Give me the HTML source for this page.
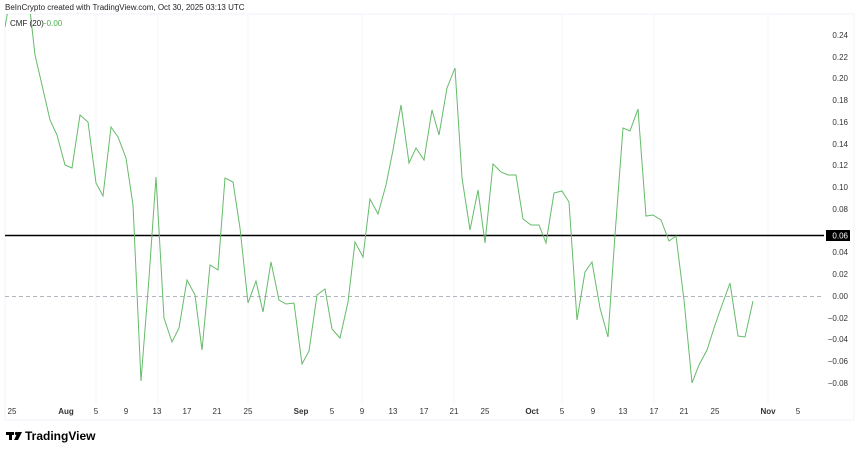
<!DOCTYPE html>
<html><head><meta charset="utf-8"><style>
body{margin:0;background:#fff;width:860px;height:452px;overflow:hidden;font-family:"Liberation Sans",sans-serif}
</style></head><body>
<svg width="860" height="452" xmlns="http://www.w3.org/2000/svg" font-family="Liberation Sans, sans-serif">
<defs><clipPath id="c"><rect x="5" y="14" width="820" height="390"/></clipPath></defs>
<rect x="5" y="14" width="849" height="406" fill="none" stroke="#f0f3fa"/>
<g stroke="#f3f4f7" stroke-width="1">
<line x1="96" y1="14" x2="96" y2="404"/><line x1="158" y1="14" x2="158" y2="404"/><line x1="248" y1="14" x2="248" y2="404"/><line x1="362" y1="14" x2="362" y2="404"/><line x1="454" y1="14" x2="454" y2="404"/><line x1="562" y1="14" x2="562" y2="404"/><line x1="654" y1="14" x2="654" y2="404"/><line x1="768" y1="14" x2="768" y2="404"/>
</g>
<line x1="5" y1="296.5" x2="824" y2="296.5" stroke="#b2b5be" stroke-dasharray="4,3"/>
<line x1="5" y1="235.5" x2="824" y2="235.5" stroke="#000" stroke-width="1.5"/>
<g clip-path="url(#c)">
<polyline fill="none" stroke="#66bb6a" stroke-width="1" points="5,27 8,10 30,10 35,55 42,85 50,120 57,135 65,165 72,168 80,115 88,122 96,183 103,196 111,127 118,137 126,158 133,205 141,381 149,278 156,177 164,318 172,342 179,328 187,280 195,295 202,350 210,265 218,270 225,178 233,182 240,228 248,303 256,281 263,312 271,262 279,300 286,304 294,303 302,364 309,351 317,295 325,289 332,329 340,338 348,302 355,242 363,257 370,199 378,214 386,185 393,150 401,105 409,163 416,148 424,160 432,110 439,135 447,88 455,68 462,178 470,230 478,190 485,243 493,164 501,172 508,175 516,175 523,219 531,225 539,225 546,243 554,193 562,191 569,202 577,320 585,272 592,262 600,308 608,337 615,235 623,128 630,131 638,109 646,216 653,215 661,220 669,241 676,236 684,300 692,383 699,365 707,350 715,325 722,305 730,283 738,336 745,337 753,301"/>
</g>
<g font-size="8" fill="#333" text-anchor="end">
<text x="848" y="38">0.24</text><text x="848" y="60">0.22</text><text x="848" y="81">0.20</text><text x="848" y="103">0.18</text><text x="848" y="125">0.16</text><text x="848" y="147">0.14</text><text x="848" y="168">0.12</text><text x="848" y="190">0.10</text><text x="848" y="212">0.08</text><text x="848" y="255">0.04</text><text x="848" y="277">0.02</text><text x="848" y="299">0.00</text><text x="848" y="321">−0.02</text><text x="848" y="342">−0.04</text><text x="848" y="364">−0.06</text><text x="848" y="386">−0.08</text>
</g>
<rect x="826" y="230" width="24" height="11" fill="#000"/>
<text x="848" y="238.5" font-size="8" fill="#fff" text-anchor="end">0.06</text>
<g font-size="8" fill="#333" text-anchor="middle">
<text x="12" y="414">25</text><text x="66" y="414" font-weight="bold">Aug</text><text x="96" y="414">5</text><text x="126" y="414">9</text><text x="157" y="414">13</text><text x="187" y="414">17</text><text x="217" y="414">21</text><text x="248" y="414">25</text><text x="301" y="414" font-weight="bold">Sep</text><text x="332" y="414">5</text><text x="362" y="414">9</text><text x="393" y="414">13</text><text x="424" y="414">17</text><text x="454" y="414">21</text><text x="485" y="414">25</text><text x="532" y="414" font-weight="bold">Oct</text><text x="562" y="414">5</text><text x="593" y="414">9</text><text x="623" y="414">13</text><text x="654" y="414">17</text><text x="684" y="414">21</text><text x="715" y="414">25</text><text x="768" y="414" font-weight="bold">Nov</text><text x="798" y="414">5</text>
</g>
<text x="5" y="10" font-size="8" fill="#222">BeInCrypto created with TradingView.com, Oct 30, 2025 03:13 UTC</text>
<text x="10" y="26" font-size="8" fill="#222">CMF (20)</text>
<text x="42" y="26" font-size="8" fill="#4caf50">−0.00</text>
<g fill="#000">
<rect x="6" y="432" width="8" height="3"/><rect x="9" y="432" width="3" height="8"/>
<circle cx="16.5" cy="433.5" r="1.6"/><polygon points="18,432 22,432 18,440 14,440"/>
</g>
<text x="25" y="440" font-size="12" font-weight="bold" fill="#000">TradingView</text>
</svg>
</body></html>
